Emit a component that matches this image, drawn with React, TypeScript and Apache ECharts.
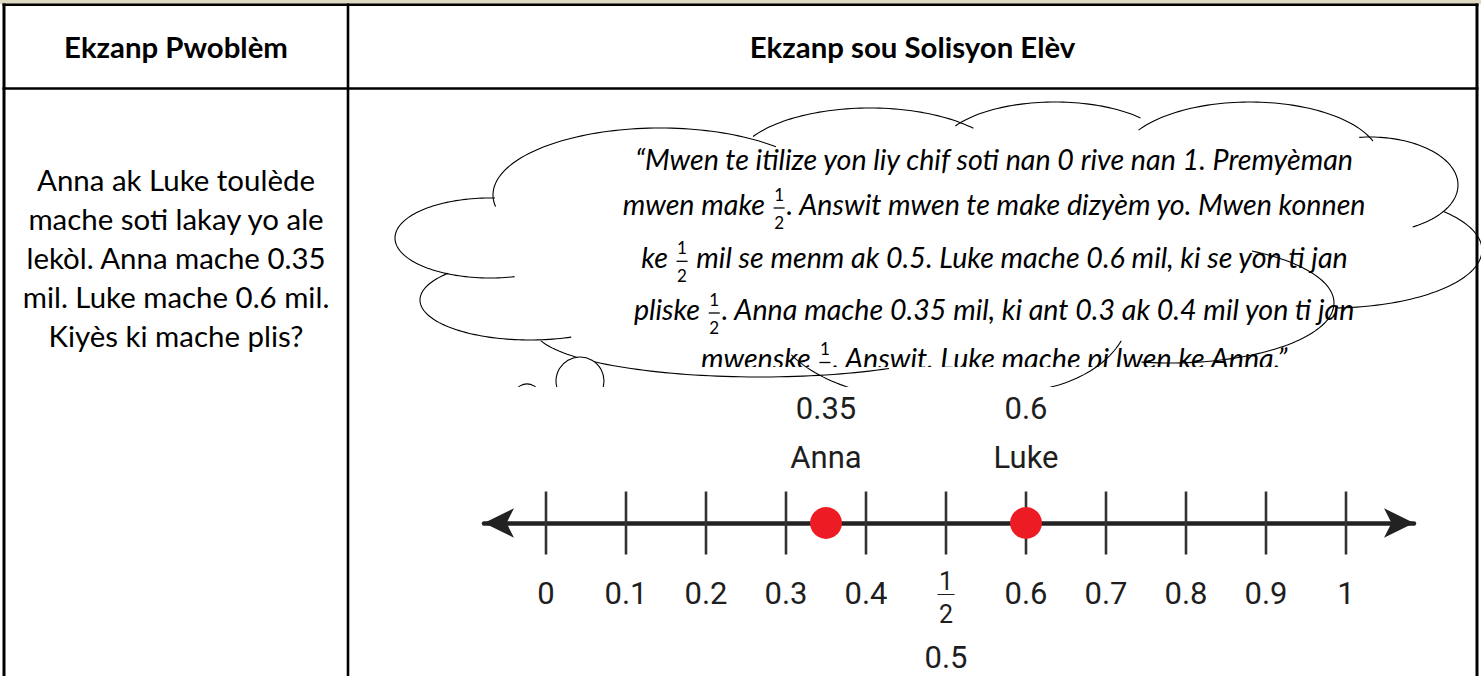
import React, { useEffect, useRef } from 'react';
import * as echarts from 'echarts';

// ---------- content ----------
const headerLabels = ['Ekzanp Pwoblèm', 'Ekzanp sou Solisyon Elèv'];
const problemLines = [
  'Anna ak Luke toulède',
  'mache soti lakay yo ale',
  'lekòl. Anna mache 0.35',
  'mil. Luke mache 0.6 mil.',
  'Kiyès ki mache plis?',
];
const FRAC = '½';
const fracNum = '1';
const fracDen = '2';
const solutionLines: string[][] = [
  ['“Mwen te itilize yon liy chif soti nan 0 rive nan 1. Premyèman'],
  ['mwen make ', FRAC, '. Answit mwen te make dizyèm yo. Mwen konnen'],
  ['ke ', FRAC, ' mil se menm ak 0.5. Luke mache 0.6 mil, ki se yon ti jan'],
  ['pliske ', FRAC, '. Anna mache 0.35 mil, ki ant 0.3 ak 0.4 mil yon ti jan'],
  ['mwenske ', FRAC, '. Answit, Luke mache pi lwen ke Anna.”'],
];
const tickValues = [0, 0.1, 0.2, 0.3, 0.4, 0.5, 0.6, 0.7, 0.8, 0.9, 1];
const tickLabels = ['0', '0.1', '0.2', '0.3', '0.4', FRAC, '0.6', '0.7', '0.8', '0.9', '1'];
const halfDecimal = '0.5';
const walkerNames = ['Anna', 'Luke'];
const walkerMiles = [0.35, 0.6];
const walkerMileLabels = ['0.35', '0.6'];

// ---------- layout (decoration geometry) ----------
const W = 1481;
const H = 676;
// thought-cloud bumps: cx, cy, rx, ry, startDeg, endDeg
const CLOUD_ARCS = [
  [660, 195, 167, 67, 170, 314],
  [870, 165, 135, 57, 210, 320],
  [1055, 150, 115, 48, 210, 319],
  [1250, 160, 130, 58, 211, 342],
  [1370, 185, 88, 48, 263, 421],
  [1330, 250, 152, 58, 318, 448],
  [1170, 303, 164, 60, 300, 460],
  [1010, 310, 120, 82, 22, 100],
  [930, 310, 160, 90, 60, 150],
  [760, 330, 225, 47, 55, 168],
  [530, 300, 110, 40, 68, 223],
  [490, 238, 95, 40, 75, 273],
];
const CLOUD_PUFFS = [
  [580, 381, 24],
  [527, 398, 14],
];

const TEXT_FONT = 'Lato';
const NL_FONT = 'Roboto';
const NL_COLOR = '#1e1e1e';

export default function App() {
  const ref = useRef<HTMLDivElement>(null);

  useEffect(() => {
    const el = ref.current;
    if (!el) return;
    const chart = echarts.init(el, undefined, { renderer: 'svg', width: W, height: H });

    const cvs = document.createElement('canvas');
    const ctx = cvs.getContext('2d') as CanvasRenderingContext2D;
    const measure = (t: string, st: string, wt: string, sz: number, fam: string) => {
      ctx.font = `${st} ${wt} ${sz}px ${fam}`;
      return ctx.measureText(t).width;
    };
    const fit = (t: string, st: string, wt: string, fam: string, target: number) =>
      (100 * target) / measure(t, st, wt, 100, fam);

    const CENTRAL = 0.387; // Lato central baseline above alphabetic baseline (em)
    const graphic: any[] = [];

    // top beige strip
    graphic.push({ type: 'rect', z: 1, shape: { x: 0, y: 0, width: W, height: 4 }, style: { fill: '#DDD9C3' } });

    // headers
    const hSize = fit(headerLabels[0], 'normal', 'bold', TEXT_FONT, 224);
    const headerCenters = [176, 912.5];
    headerLabels.forEach((t, i) => {
      graphic.push({
        type: 'text', z: 2, x: headerCenters[i], y: 58.3 - CENTRAL * hSize,
        style: {
          text: t, fill: '#000', fontFamily: TEXT_FONT, fontWeight: 'bold', fontSize: hSize,
          align: 'center', verticalAlign: 'middle', textAlign: 'center', textVerticalAlign: 'middle',
        },
      });
    });

    // problem text
    const pSize = fit(problemLines[0], 'normal', 'normal', TEXT_FONT, 278);
    problemLines.forEach((t, i) => {
      const base = 190.7 + i * 39.15;
      graphic.push({
        type: 'text', z: 2, x: 176, y: base - CENTRAL * pSize,
        style: {
          text: t, fill: '#000', fontFamily: TEXT_FONT, fontSize: pSize,
          align: 'center', verticalAlign: 'middle', textAlign: 'center', textVerticalAlign: 'middle',
        },
      });
    });

    // solution (cloud) text
    const sSize = fit(solutionLines[0][0], 'italic', 'normal', TEXT_FONT, 720);
    const fracW = 15;
    const fracSize = 17;
    const lineBases = [170, 215, 268.3, 320, 369.5];
    const cloudCx = 995;
    solutionLines.forEach((segs, li) => {
      const b = lineBases[li];
      const widths = segs.map((s) => (s === FRAC ? fracW : measure(s, 'italic', 'normal', sSize, TEXT_FONT)));
      const total = widths.reduce((a, c) => a + c, 0);
      let x = cloudCx - total / 2;
      segs.forEach((s, si) => {
        if (s === FRAC) {
          const fx = x + fracW / 2;
          graphic.push({
            type: 'text', z: 2, x: fx, y: b - 21,
            style: { text: fracNum, fill: '#000', fontFamily: TEXT_FONT, fontSize: fracSize,
              align: 'center', verticalAlign: 'middle', textAlign: 'center', textVerticalAlign: 'middle' },
          });
          graphic.push({
            type: 'line', z: 2, shape: { x1: fx - 5.5, y1: b - 7, x2: fx + 5.5, y2: b - 7 },
            style: { stroke: '#000', lineWidth: 1.3 },
          });
          graphic.push({
            type: 'text', z: 2, x: fx, y: b + 7,
            style: { text: fracDen, fill: '#000', fontFamily: TEXT_FONT, fontSize: fracSize,
              align: 'center', verticalAlign: 'middle', textAlign: 'center', textVerticalAlign: 'middle' },
          });
        } else {
          const lead = s.length - s.trimStart().length;
          const leadW = lead ? measure(s.slice(0, lead), 'italic', 'normal', sSize, TEXT_FONT) : 0;
          graphic.push({
            type: 'text', z: 2, x: x + leadW, y: b - CENTRAL * sSize,
            style: {
              text: s.trim(), fill: '#000', fontFamily: TEXT_FONT, fontStyle: 'italic', fontSize: sSize,
              align: 'left', verticalAlign: 'middle', textAlign: 'left', textVerticalAlign: 'middle',
            },
          });
        }
        x += widths[si];
      });
    });
    // text box clip (last line cut)
    graphic.push({ type: 'rect', z: 3, shape: { x: 640, y: 367, width: 690, height: 22 }, style: { fill: '#fff' } });

    // cloud outline
    CLOUD_ARCS.forEach(([cx, cy, rx, ry, t0, t1]) => {
      const pts: number[][] = [];
      for (let t = t0; t <= t1 + 0.001; t += 2) {
        const a = (t * Math.PI) / 180;
        pts.push([cx + rx * Math.cos(a), cy + ry * Math.sin(a)]);
      }
      graphic.push({ type: 'polyline', z: 4, shape: { points: pts }, style: { stroke: '#000', lineWidth: 1.1, fill: null } });
    });
    CLOUD_PUFFS.forEach(([cx, cy, r]) => {
      graphic.push({ type: 'circle', z: 4, shape: { cx, cy, r }, style: { fill: '#fff', stroke: '#000', lineWidth: 1.1 } });
    });

    // number-line picture background
    graphic.push({ type: 'rect', z: 5, shape: { x: 440, y: 387, width: 1030, height: H - 387 }, style: { fill: '#fff' } });

    // table rules
    const rule = (x1: number, y1: number, x2: number, y2: number, w: number) =>
      graphic.push({ type: 'line', z: 30, shape: { x1, y1, x2, y2 }, style: { stroke: '#000', lineWidth: w } });
    rule(2.5, 4.8, 1478.5, 4.8, 2.6);
    rule(2.5, 88.5, 1478.5, 88.5, 2.6);
    rule(4, 3.5, 4, H, 3);
    rule(348, 3.5, 348, H, 2.6);
    rule(1477, 3.5, 1477, H, 3);

    const tickRich = {
      t: { fontFamily: NL_FONT, fontSize: 31, lineHeight: 31, color: NL_COLOR },
      n: { fontFamily: NL_FONT, fontSize: 25, lineHeight: 8, color: NL_COLOR },
      b: { width: 17, height: 0, borderWidth: 1.2, borderColor: NL_COLOR, lineHeight: 18 },
      d: { fontFamily: NL_FONT, fontSize: 25, lineHeight: 22, color: NL_COLOR },
      v: { fontFamily: NL_FONT, fontSize: 31, lineHeight: 64, color: NL_COLOR },
    };

    const option: any = {
      animation: false,
      backgroundColor: '#fff',
      graphic,
      grid: { left: 484, width: 930, top: 493, height: 60, containLabel: false },
      xAxis: {
        type: 'value', min: -0.0775, max: 1.085, z: 9,
        axisLine: {
          show: true, onZero: true, symbol: ['arrow', 'arrow'], symbolSize: [22, 30],
          lineStyle: { color: '#222', width: 4.5 },
        },
        axisTick: { show: false }, axisLabel: { show: false }, splitLine: { show: false },
      },
      yAxis: { type: 'value', min: -1, max: 1, show: false },
      series: [
        {
          type: 'scatter', z: 10, silent: true,
          symbol: 'rect', symbolSize: [2.6, 63],
          itemStyle: { color: '#333', opacity: 1 },
          emphasis: { disabled: true },
          data: tickValues.map((v) => [v, 0]),
          label: {
            show: true, position: 'bottom', distance: 23,
            formatter: (p: any) => {
              const t = tickLabels[p.dataIndex];
              return t === FRAC
                ? `{n|${fracNum}}\n{b|}\n{d|${fracDen}}\n{v|${halfDecimal}}`
                : `{t|${t}}`;
            },
            rich: tickRich,
          },
        },
        {
          type: 'scatter', z: 11, silent: true,
          symbol: 'circle', symbolSize: 32,
          itemStyle: { color: '#ED1C24', opacity: 1 },
          emphasis: { disabled: true },
          data: walkerMiles.map((v) => [v, 0]),
          label: {
            show: true, position: 'top', distance: 25.5,
            formatter: (p: any) => `{v|${walkerMileLabels[p.dataIndex]}}\n{v|${walkerNames[p.dataIndex]}}`,
            rich: { v: { fontFamily: NL_FONT, fontSize: 31, lineHeight: 49, color: NL_COLOR } },
          },
        },
      ],
    };
    chart.setOption(option);
    return () => chart.dispose();
  }, []);

  return (
    <div
      ref={ref}
      style={{ position: 'fixed', left: 0, top: 0, width: W, height: H, background: '#fff' }}
    />
  );
}
